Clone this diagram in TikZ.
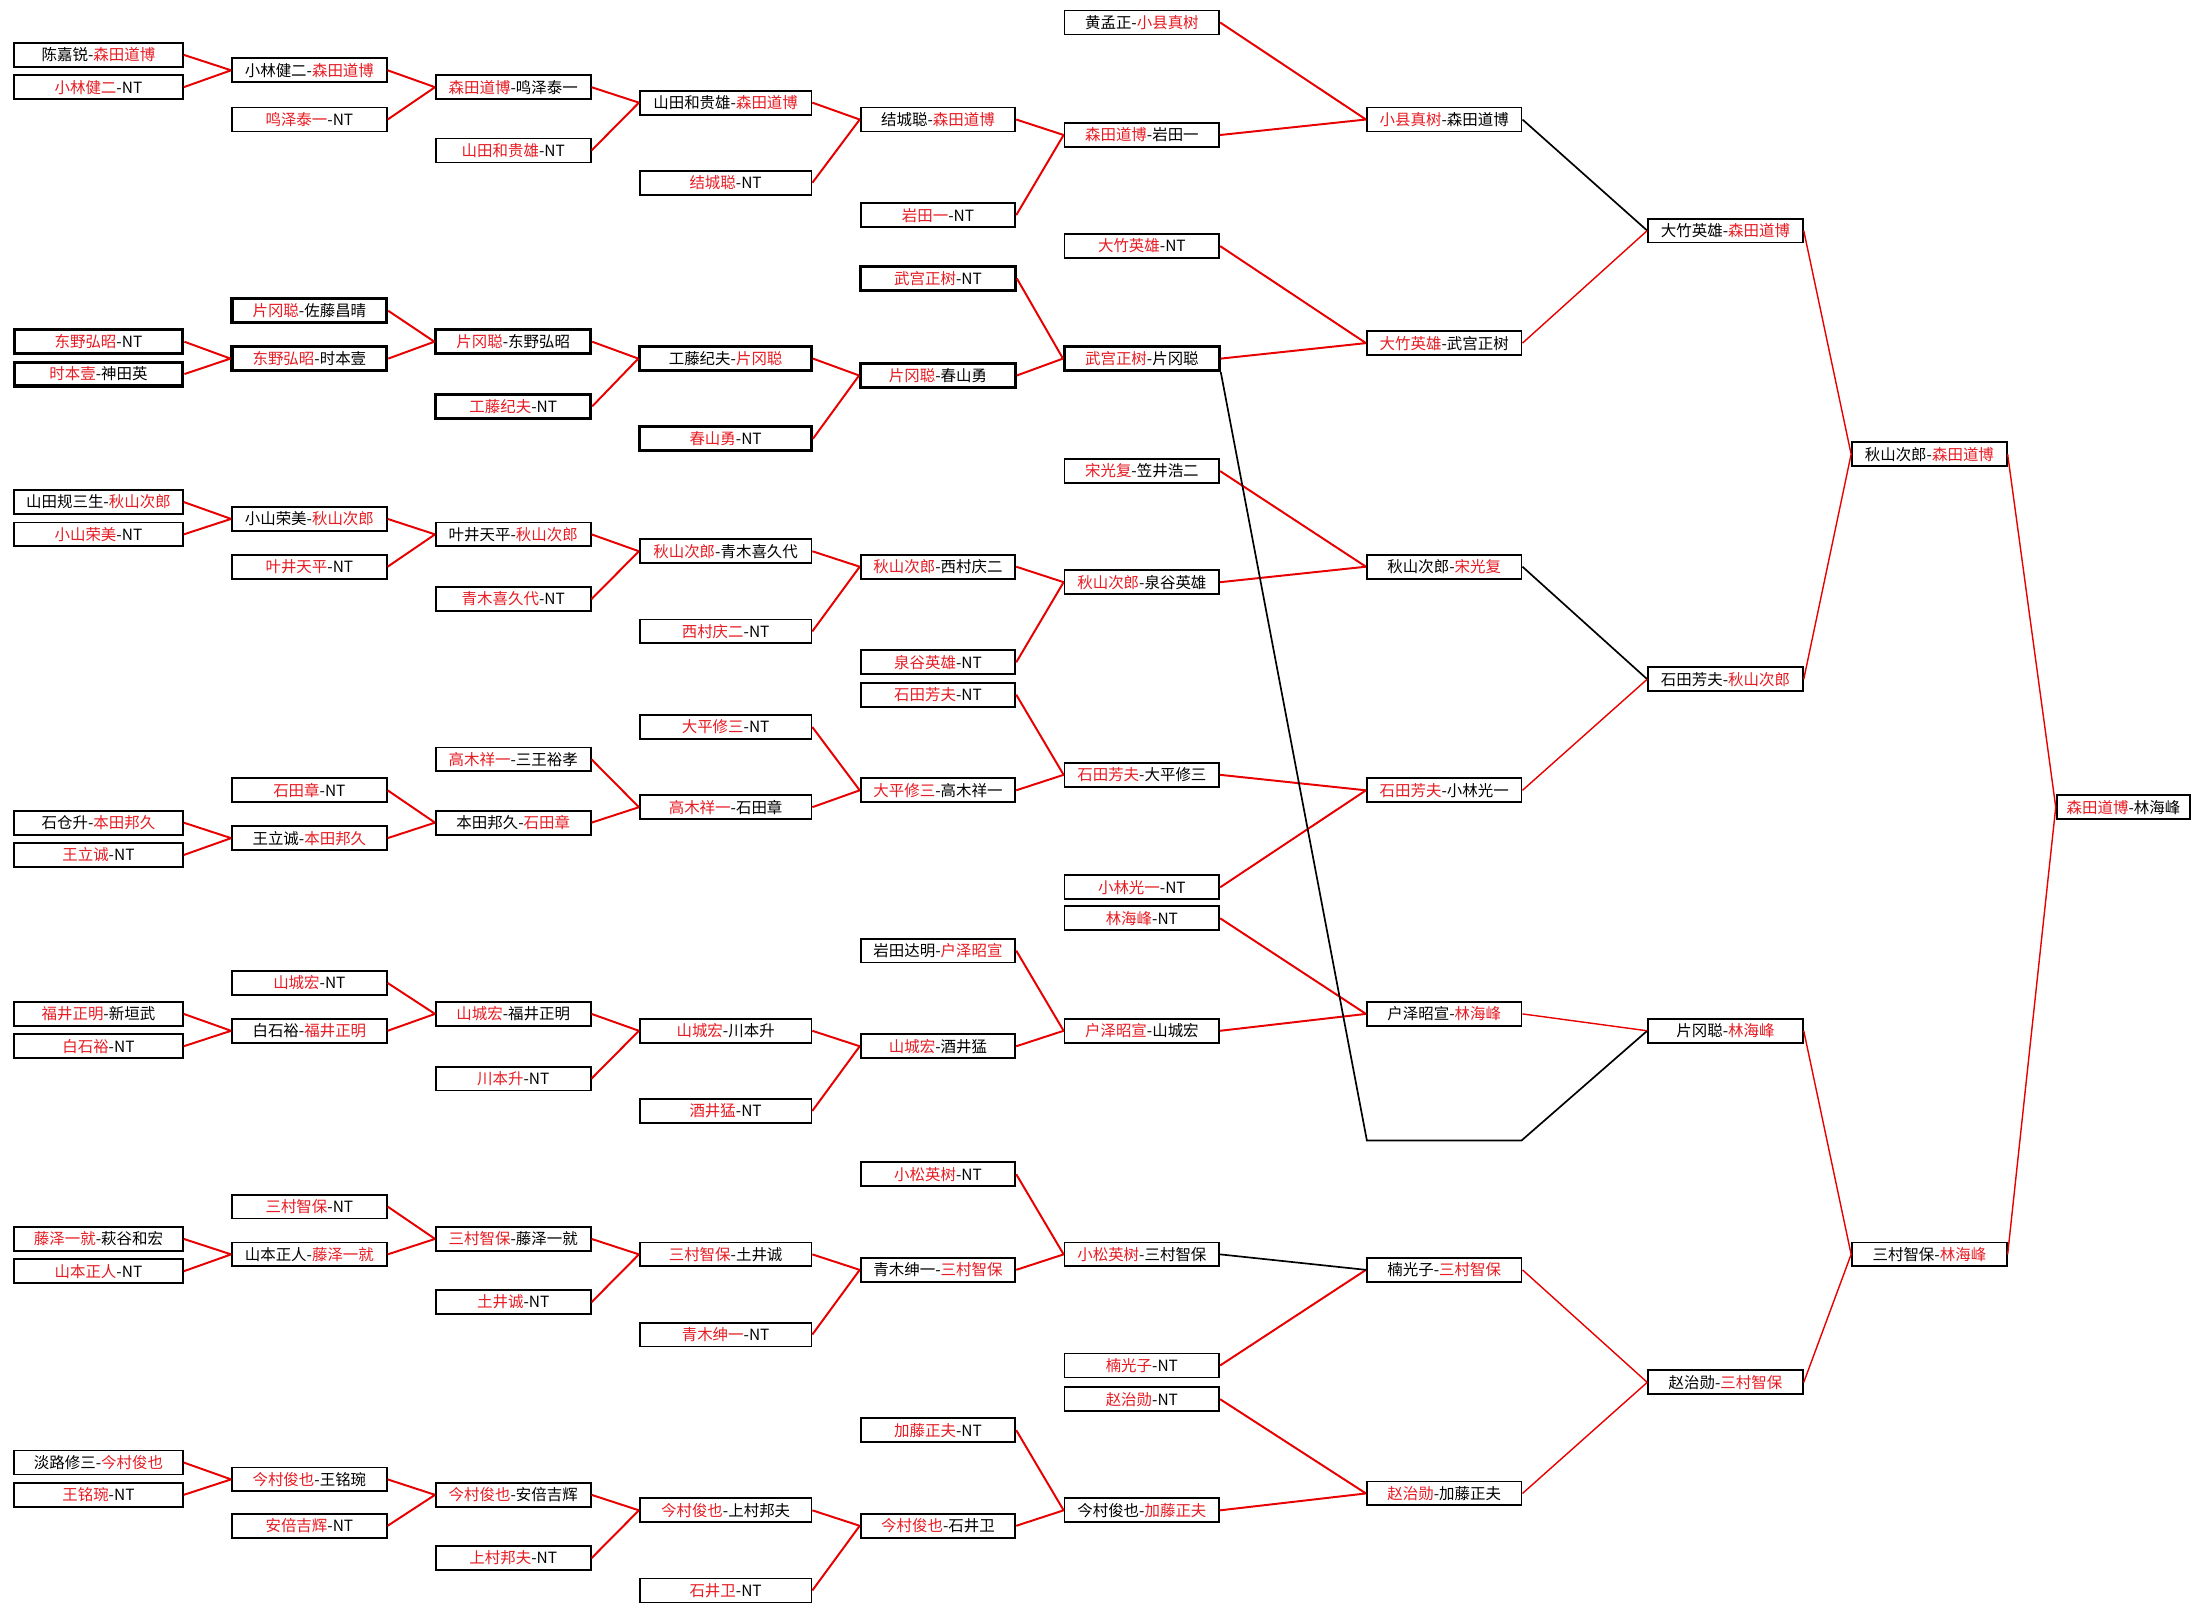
\documentclass[tikz,border=0pt]{standalone}
\usepackage{fontspec}
\setmainfont{Noto Sans CJK SC}
\usepackage{xcolor}
\usepackage{tikz}
\definecolor{winred}{RGB}{230,28,36}
\definecolor{linered}{RGB}{232,0,0}
\newcommand{\rd}[1]{\textcolor{winred}{#1}}
\tikzset{
  pbox/.style={rectangle, draw=black, line width=1.3pt, fill=white, minimum height=17pt, inner sep=0pt, font=\fontsize{11}{12}\selectfont},
  pboxk/.style={pbox, line width=2.2pt},
  wa/.style={minimum width=120pt},
  wb/.style={minimum width=110pt},
  wd/.style={minimum width=122pt},
  wj/.style={minimum width=95pt},
  winline/.style={draw=linered, line width=1.4pt},
  thinwin/.style={draw=linered, line width=1pt},
  loseline/.style={draw=black, line width=1.2pt}
}

\begin{document}
\begin{tikzpicture}[x=1pt, y=-1pt]
\useasboundingbox (0,0) rectangle (1568,1147);
% Round 1
\node[pbox,wa] (a1) at (70,39) {陈嘉锐-\rd{森田道博}};
\node[pbox,wa] (a2) at (70,62) {\rd{小林健二}-NT};
\node[pboxk,wa] (a3) at (70,243) {\rd{东野弘昭}-NT};
\node[pboxk,wa] (a4) at (70,266) {\rd{时本壹}-神田英};
\node[pbox,wa] (a5) at (70,357) {山田规三生-\rd{秋山次郎}};
\node[pbox,wa] (a6) at (70,380) {\rd{小山荣美}-NT};
\node[pbox,wa] (a7) at (70,585) {石仓升-\rd{本田邦久}};
\node[pbox,wa] (a8) at (70,608) {\rd{王立诚}-NT};
\node[pbox,wa] (a9) at (70,721) {\rd{福井正明}-新垣武};
\node[pbox,wa] (a10) at (70,744) {\rd{白石裕}-NT};
\node[pbox,wa] (a11) at (70,881) {\rd{藤泽一就}-萩谷和宏};
\node[pbox,wa] (a12) at (70,904) {\rd{山本正人}-NT};
\node[pbox,wa] (a13) at (70,1040) {淡路修三-\rd{今村俊也}};
\node[pbox,wa] (a14) at (70,1063) {\rd{王铭琬}-NT};
% Round 2
\node[pbox,wb] (b1) at (220,50) {小林健二-\rd{森田道博}};
\node[pbox,wb] (b2) at (220,85) {\rd{鸣泽泰一}-NT};
\node[pboxk,wb] (b3) at (220,221) {\rd{片冈聪}-佐藤昌晴};
\node[pboxk,wb] (b4) at (220,255) {\rd{东野弘昭}-时本壹};
\node[pbox,wb] (b5) at (220,369) {小山荣美-\rd{秋山次郎}};
\node[pbox,wb] (b6) at (220,403) {\rd{叶井天平}-NT};
\node[pbox,wb] (b7) at (220,562) {\rd{石田章}-NT};
\node[pbox,wb] (b8) at (220,596) {王立诚-\rd{本田邦久}};
\node[pbox,wb] (b9) at (220,699) {\rd{山城宏}-NT};
\node[pbox,wb] (b10) at (220,733) {白石裕-\rd{福井正明}};
\node[pbox,wb] (b11) at (220,858) {\rd{三村智保}-NT};
\node[pbox,wb] (b12) at (220,892) {山本正人-\rd{藤泽一就}};
\node[pbox,wb] (b13) at (220,1052) {\rd{今村俊也}-王铭琬};
\node[pbox,wb] (b14) at (220,1085) {\rd{安倍吉辉}-NT};
% Round 3
\node[pbox,wb] (c1) at (365,62) {\rd{森田道博}-鸣泽泰一};
\node[pbox,wb] (c2) at (365,107) {\rd{山田和贵雄}-NT};
\node[pboxk,wb] (c3) at (365,243) {\rd{片冈聪}-东野弘昭};
\node[pboxk,wb] (c4) at (365,289) {\rd{工藤纪夫}-NT};
\node[pbox,wb] (c5) at (365,380) {叶井天平-\rd{秋山次郎}};
\node[pbox,wb] (c6) at (365,426) {\rd{青木喜久代}-NT};
\node[pbox,wb] (c7) at (365,540) {\rd{高木祥一}-三王裕孝};
\node[pbox,wb] (c8) at (365,585) {本田邦久-\rd{石田章}};
\node[pbox,wb] (c9) at (365,721) {\rd{山城宏}-福井正明};
\node[pbox,wb] (c10) at (365,767) {\rd{川本升}-NT};
\node[pbox,wb] (c11) at (365,881) {\rd{三村智保}-藤泽一就};
\node[pbox,wb] (c12) at (365,926) {\rd{土井诚}-NT};
\node[pbox,wb] (c13) at (365,1063) {\rd{今村俊也}-安倍吉辉};
\node[pbox,wb] (c14) at (365,1108) {\rd{上村邦夫}-NT};
% Round 4
\node[pbox,wd] (d1) at (516,73) {山田和贵雄-\rd{森田道博}};
\node[pbox,wd] (d2) at (516,130) {\rd{结城聪}-NT};
\node[pboxk,wd] (d3) at (516,255) {工藤纪夫-\rd{片冈聪}};
\node[pboxk,wd] (d4) at (516,312) {\rd{春山勇}-NT};
\node[pbox,wd] (d5) at (516,392) {\rd{秋山次郎}-青木喜久代};
\node[pbox,wd] (d6) at (516,449) {\rd{西村庆二}-NT};
\node[pbox,wd] (d7) at (516,517) {\rd{大平修三}-NT};
\node[pbox,wd] (d8) at (516,574) {\rd{高木祥一}-石田章};
\node[pbox,wd] (d9) at (516,733) {\rd{山城宏}-川本升};
\node[pbox,wd] (d10) at (516,790) {\rd{酒井猛}-NT};
\node[pbox,wd] (d11) at (516,892) {\rd{三村智保}-土井诚};
\node[pbox,wd] (d12) at (516,949) {\rd{青木绅一}-NT};
\node[pbox,wd] (d13) at (516,1074) {\rd{今村俊也}-上村邦夫};
\node[pbox,wd] (d14) at (516,1131) {\rd{石井卫}-NT};
% Round 5
\node[pbox,wb] (e1) at (667,85) {结城聪-\rd{森田道博}};
\node[pbox,wb] (e2) at (667,153) {\rd{岩田一}-NT};
\node[pboxk,wb] (e3) at (667,198) {\rd{武宫正树}-NT};
\node[pboxk,wb] (e4) at (667,267) {\rd{片冈聪}-春山勇};
\node[pbox,wb] (e5) at (667,403) {\rd{秋山次郎}-西村庆二};
\node[pbox,wb] (e6) at (667,471) {\rd{泉谷英雄}-NT};
\node[pbox,wb] (e7) at (667,494) {\rd{石田芳夫}-NT};
\node[pbox,wb] (e8) at (667,562) {\rd{大平修三}-高木祥一};
\node[pbox,wb] (e9) at (667,676) {岩田达明-\rd{户泽昭宣}};
\node[pbox,wb] (e10) at (667,744) {\rd{山城宏}-酒井猛};
\node[pbox,wb] (e11) at (667,835) {\rd{小松英树}-NT};
\node[pbox,wb] (e12) at (667,903) {青木绅一-\rd{三村智保}};
\node[pbox,wb] (e13) at (667,1017) {\rd{加藤正夫}-NT};
\node[pbox,wb] (e14) at (667,1085) {\rd{今村俊也}-石井卫};
% Round 6
\node[pbox,wb] (f1) at (812,16) {黄孟正-\rd{小县真树}};
\node[pbox,wb] (f2) at (812,96) {\rd{森田道博}-岩田一};
\node[pbox,wb] (f3) at (812,175) {\rd{大竹英雄}-NT};
\node[pboxk,wb] (f4) at (812,255) {\rd{武宫正树}-片冈聪};
\node[pbox,wb] (f5) at (812,335) {\rd{宋光复}-笠井浩二};
\node[pbox,wb] (f6) at (812,414) {\rd{秋山次郎}-泉谷英雄};
\node[pbox,wb] (f7) at (812,551) {\rd{石田芳夫}-大平修三};
\node[pbox,wb] (f8) at (812,631) {\rd{小林光一}-NT};
\node[pbox,wb] (f9) at (812,653) {\rd{林海峰}-NT};
\node[pbox,wb] (f10) at (812,733) {\rd{户泽昭宣}-山城宏};
\node[pbox,wb] (f11) at (812,892) {\rd{小松英树}-三村智保};
\node[pbox,wb] (f12) at (812,971) {\rd{楠光子}-NT};
\node[pbox,wb] (f13) at (812,995) {\rd{赵治勋}-NT};
\node[pbox,wb] (f14) at (812,1074) {今村俊也-\rd{加藤正夫}};
% Round 7
\node[pbox,wb] (g1) at (1027,85) {\rd{小县真树}-森田道博};
\node[pbox,wb] (g2) at (1027,244) {\rd{大竹英雄}-武宫正树};
\node[pbox,wb] (g3) at (1027,403) {秋山次郎-\rd{宋光复}};
\node[pbox,wb] (g4) at (1027,562) {\rd{石田芳夫}-小林光一};
\node[pbox,wb] (g5) at (1027,721) {户泽昭宣-\rd{林海峰}};
\coordinate (gx) at (972,811);
\coordinate (gy) at (1082,811);
\node[pbox,wb] (g6) at (1027,903) {楠光子-\rd{三村智保}};
\node[pbox,wb] (g7) at (1027,1062) {\rd{赵治勋}-加藤正夫};
% Round 8 to final
\node[pbox,wb] (h1) at (1227,164) {大竹英雄-\rd{森田道博}};
\node[pbox,wb] (h2) at (1227,483) {石田芳夫-\rd{秋山次郎}};
\node[pbox,wb] (h3) at (1227,733) {片冈聪-\rd{林海峰}};
\node[pbox,wb] (h4) at (1227,983) {赵治勋-\rd{三村智保}};
\node[pbox,wb] (i1) at (1372,323) {秋山次郎-\rd{森田道博}};
\node[pbox,wb] (i2) at (1372,892) {三村智保-\rd{林海峰}};
\node[pbox,wj] (j1) at (1510,574) {\rd{森田道博}-林海峰};
% Connectors
\draw[winline] (a1.east)--(b1.west) (a2.east)--(b1.west) (a3.east)--(b4.west) (a4.east)--(b4.west);
\draw[winline] (a5.east)--(b5.west) (a6.east)--(b5.west) (a7.east)--(b8.west) (a8.east)--(b8.west);
\draw[winline] (a9.east)--(b10.west) (a10.east)--(b10.west) (a11.east)--(b12.west) (a12.east)--(b12.west);
\draw[winline] (a13.east)--(b13.west) (a14.east)--(b13.west);
\draw[winline] (b1.east)--(c1.west) (b2.east)--(c1.west) (b3.east)--(c3.west) (b4.east)--(c3.west);
\draw[winline] (b5.east)--(c5.west) (b6.east)--(c5.west) (b7.east)--(c8.west) (b8.east)--(c8.west);
\draw[winline] (b9.east)--(c9.west) (b10.east)--(c9.west) (b11.east)--(c11.west) (b12.east)--(c11.west);
\draw[winline] (b13.east)--(c13.west) (b14.east)--(c13.west);
\draw[winline] (c1.east)--(d1.west) (c2.east)--(d1.west) (c3.east)--(d3.west) (c4.east)--(d3.west);
\draw[winline] (c5.east)--(d5.west) (c6.east)--(d5.west) (c7.east)--(d8.west) (c8.east)--(d8.west);
\draw[winline] (c9.east)--(d9.west) (c10.east)--(d9.west) (c11.east)--(d11.west) (c12.east)--(d11.west);
\draw[winline] (c13.east)--(d13.west) (c14.east)--(d13.west);
\draw[winline] (d1.east)--(e1.west) (d2.east)--(e1.west) (d3.east)--(e4.west) (d4.east)--(e4.west);
\draw[winline] (d5.east)--(e5.west) (d6.east)--(e5.west) (d7.east)--(e8.west) (d8.east)--(e8.west);
\draw[winline] (d9.east)--(e10.west) (d10.east)--(e10.west) (d11.east)--(e12.west) (d12.east)--(e12.west);
\draw[winline] (d13.east)--(e14.west) (d14.east)--(e14.west);
\draw[winline] (e1.east)--(f2.west) (e2.east)--(f2.west) (e3.east)--(f4.west) (e4.east)--(f4.west);
\draw[winline] (e5.east)--(f6.west) (e6.east)--(f6.west) (e7.east)--(f7.west) (e8.east)--(f7.west);
\draw[winline] (e9.east)--(f10.west) (e10.east)--(f10.west) (e11.east)--(f11.west) (e12.east)--(f11.west);
\draw[winline] (e13.east)--(f14.west) (e14.east)--(f14.west);
\draw[winline] (f1.east)--(g1.west) (f2.east)--(g1.west) (f3.east)--(g2.west) (f4.east)--(g2.west);
\draw[winline] (f5.east)--(g3.west) (f6.east)--(g3.west) (f7.east)--(g4.west) (f8.east)--(g4.west);
\draw[winline] (f9.east)--(g5.west) (f10.east)--(g5.west) (f12.east)--(g6.west);
\draw[winline] (f13.east)--(g7.west) (f14.east)--(g7.west);
\draw[loseline] (f11.east)--(g6.west);
\draw[loseline] (f4.south east)--(gx)--(gy)--(h3.west);
\draw[loseline] (g1.east)--(h1.west) (g3.east)--(h2.west);
\draw[thinwin] (g2.east)--(h1.west) (g4.east)--(h2.west) (g5.east)--(h3.west);
\draw[thinwin] (g6.east)--(h4.west) (g7.east)--(h4.west);
\draw[thinwin] (h1.east)--(i1.west) (h2.east)--(i1.west) (h3.east)--(i2.west) (h4.east)--(i2.west);
\draw[thinwin] (i1.east)--(j1.west) (i2.east)--(j1.west);
\end{tikzpicture}
\end{document}
